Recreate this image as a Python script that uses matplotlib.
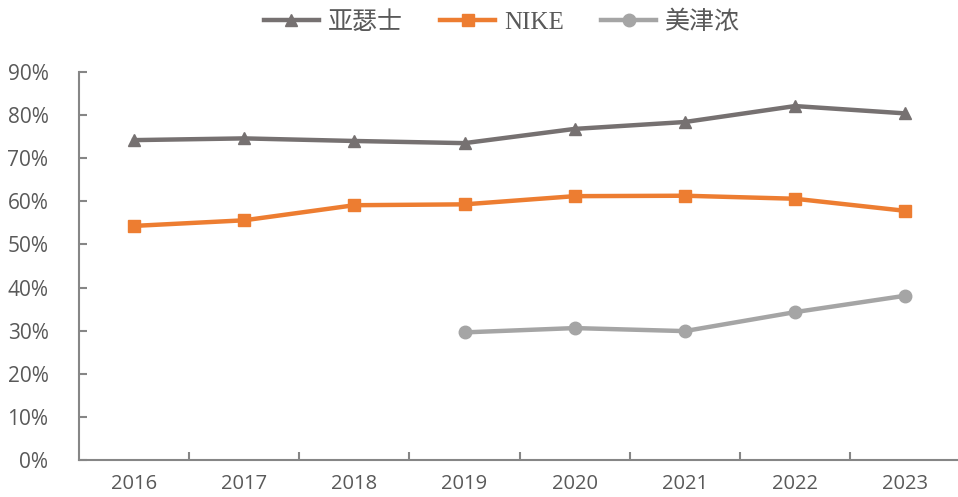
import matplotlib
matplotlib.use("Agg")
import matplotlib.pyplot as plt
from matplotlib.ticker import FuncFormatter
import numpy as np

years = ["2016", "2017", "2018", "2019", "2020", "2021", "2022", "2023"]
asics = [74.2, 74.6, 74.0, 73.5, 76.8, 78.4, 82.1, 80.4]
nike = [54.3, 55.6, 59.1, 59.3, 61.2, 61.3, 60.6, 57.8]
mizuno = [np.nan, np.nan, np.nan, 29.6, 30.6, 29.9, 34.3, 38.1]
series_names = ["亚瑟士", "NIKE", "美津浓"]

fig = plt.figure(figsize=(9.58, 4.97), dpi=100)
ax = fig.add_axes([79/958, 1-460/497, 1-79/958, (460-72)/497])

x = np.arange(len(years))
ax.plot(x, asics, color="#767171", lw=3.2, marker="^", ms=9, label=series_names[0])
ax.plot(x, nike, color="#ED7D31", lw=3.2, marker="s", ms=8, label=series_names[1])
ax.plot(x, mizuno, color="#A5A5A5", lw=3.2, marker="o", ms=9, label=series_names[2])

ax.set_xlim(-0.5, 7.48)
ax.set_ylim(0, 90)
ax.set_yticks(np.arange(0, 91, 10))
ax.yaxis.set_major_formatter(FuncFormatter(lambda v, p: f"{int(v)}%"))
ax.set_xticks(x)
ax.set_xticklabels(years)
ax.set_xticks(np.arange(0.5, 7.5, 1), minor=True)

for s in ["top", "right"]:
    ax.spines[s].set_visible(False)
for s in ["left", "bottom"]:
    ax.spines[s].set_color("#868686")
    ax.spines[s].set_linewidth(1.5)

ax.tick_params(axis="x", which="major", length=0, pad=10, labelsize=14.5, labelcolor="#595959")
ax.tick_params(axis="x", which="minor", direction="in", length=6, width=1.5, color="#868686")
ax.tick_params(axis="y", direction="in", length=6, width=1.5, color="#868686", labelsize=15,
               labelcolor="#595959", pad=22)
for lab in ax.get_xticklabels() + ax.get_yticklabels():
    lab.set_family(["Open Sans", "DejaVu Sans"])

leg = fig.legend(loc="upper center", bbox_to_anchor=(0.524, 1.025), ncol=3, frameon=False,
                 prop={"family": ["Liberation Serif", "Noto Sans CJK SC"], "size": 18},
                 handlelength=2.2, columnspacing=1.5, handletextpad=0.35)
for t in leg.get_texts():
    t.set_color("#595959")

fig.savefig("out.png", dpi=100)
